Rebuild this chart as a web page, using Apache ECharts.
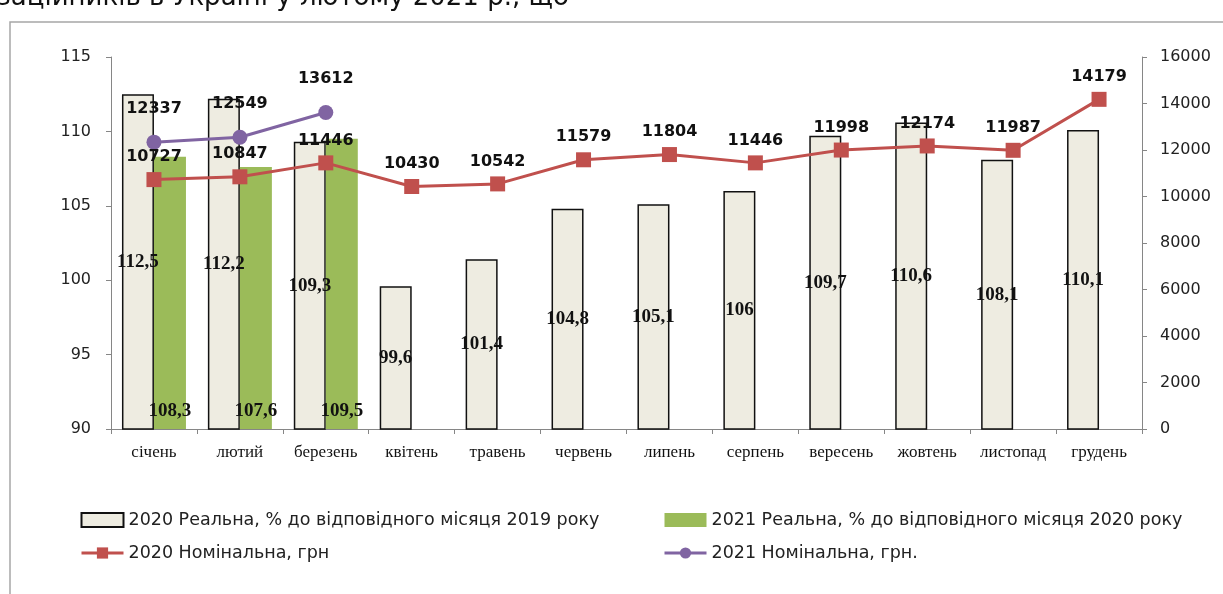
<!DOCTYPE html>
<html>
<head>
<meta charset="utf-8">
<script src="https://cdn.jsdelivr.net/npm/echarts@6/dist/echarts.min.js"></script>
<style>html,body{margin:0;padding:0;background:#fff;}#c{width:1223px;height:594px;}</style>
</head>
<body>
<div id="c"></div>
<script>
const months = ['січень','лютий','березень','квітень','травень','червень','липень','серпень','вересень','жовтень','листопад','грудень'];
const real2020 = [112.5, 112.2, 109.3, 99.6, 101.4, 104.8, 105.1, 106, 109.7, 110.6, 108.1, 110.1];
const real2021 = [108.3, 107.6, 109.5, null, null, null, null, null, null, null, null, null];
const nom2020 = [10727, 10847, 11446, 10430, 10542, 11579, 11804, 11446, 11998, 12174, 11987, 14179];
const nom2021 = [12337, 12549, 13612, null, null, null, null, null, null, null, null, null];
const seriesNames = ['2020 Реальна, % до відповідного місяця 2019 року','2021 Реальна, % до відповідного місяця 2020 року','2020 Номінальна, грн','2021 Номінальна, грн.'];
const headerText = 'заційників в Україні у лютому 2021 р., що';

const chart = echarts.init(document.getElementById('c'));
const comma = p => String(p.value).replace('.', ',');
const axisLine = {show:true, lineStyle:{color:'#868686', width:1}};
const barLabelFont = {fontFamily:'Liberation Serif', fontWeight:'bold', fontSize:19, color:'#111'};
const lineLabelFont = {fontFamily:'DejaVu Sans', fontWeight:'bold', fontSize:16, color:'#111'};
const legendText = {fontFamily:'DejaVu Sans', fontSize:17.5, color:'#222'};
chart.setOption({
  animation:false,
  backgroundColor:'#fff',
  graphic:[
    {type:'rect', shape:{x:10, y:22, width:1240, height:620}, style:{fill:'none', stroke:'#a6a6a6', lineWidth:1.5}},
    {type:'text', x:-3, y:-15, style:{text:headerText, font:'26px "DejaVu Sans"', fill:'#111'}}
  ],
  grid:{left:111, right:81, top:57, bottom:165},
  legend:[
    {orient:'vertical', left:80, top:511, padding:0, itemWidth:42, itemHeight:14, itemGap:15,
     data:[{name:seriesNames[0], icon:'rect'}, {name:seriesNames[2], lineStyle:{width:3}}], textStyle:legendText},
    {orient:'vertical', left:663, top:511, padding:0, itemWidth:42, itemHeight:14, itemGap:15,
     data:[{name:seriesNames[1], icon:'rect'}, {name:seriesNames[3], lineStyle:{width:3}}], textStyle:legendText}
  ],
  xAxis:{type:'category', data:months, axisLine:axisLine,
    axisTick:{show:true, length:5, lineStyle:{color:'#868686'}},
    axisLabel:{interval:0, fontFamily:'Liberation Serif', fontSize:17, color:'#111', margin:15}},
  yAxis:[
    {type:'value', min:90, max:115, interval:5, position:'left', axisLine:axisLine,
     axisTick:{show:true, length:5, lineStyle:{color:'#868686'}}, splitLine:{show:false},
     axisLabel:{fontFamily:'DejaVu Sans', fontSize:16, color:'#222', margin:20}},
    {type:'value', min:0, max:16000, interval:2000, position:'right', axisLine:axisLine,
     axisTick:{show:true, length:5, lineStyle:{color:'#868686'}}, splitLine:{show:false},
     axisLabel:{fontFamily:'DejaVu Sans', fontSize:16, color:'#222', margin:18, formatter:v => String(v)}}
  ],
  series:[
    {name:seriesNames[0], type:'bar', data:real2020, barWidth:32, barGap:'0%',
     itemStyle:{color:'#EEECE1', borderColor:'#111', borderWidth:1.5},
     label:Object.assign({show:true, position:'inside', formatter:comma}, barLabelFont)},
    {name:seriesNames[1], type:'bar', data:real2021, barWidth:32, barGap:'0%',
     itemStyle:{color:'#9BBB59'},
     label:Object.assign({show:true, position:'insideBottom', distance:8, formatter:comma}, barLabelFont)},
    {name:seriesNames[2], type:'line', yAxisIndex:1, data:nom2020, symbol:'rect', symbolSize:15,
     lineStyle:{color:'#C0504D', width:3}, itemStyle:{color:'#C0504D'},
     label:Object.assign({show:true, position:'top', distance:7}, lineLabelFont), z:5},
    {name:seriesNames[3], type:'line', yAxisIndex:1, data:nom2021, symbol:'circle', symbolSize:15,
     lineStyle:{color:'#8064A2', width:3}, itemStyle:{color:'#8064A2'},
     label:Object.assign({show:true, position:'top', distance:18}, lineLabelFont), z:5}
  ]
});
</script>
</body>
</html>
